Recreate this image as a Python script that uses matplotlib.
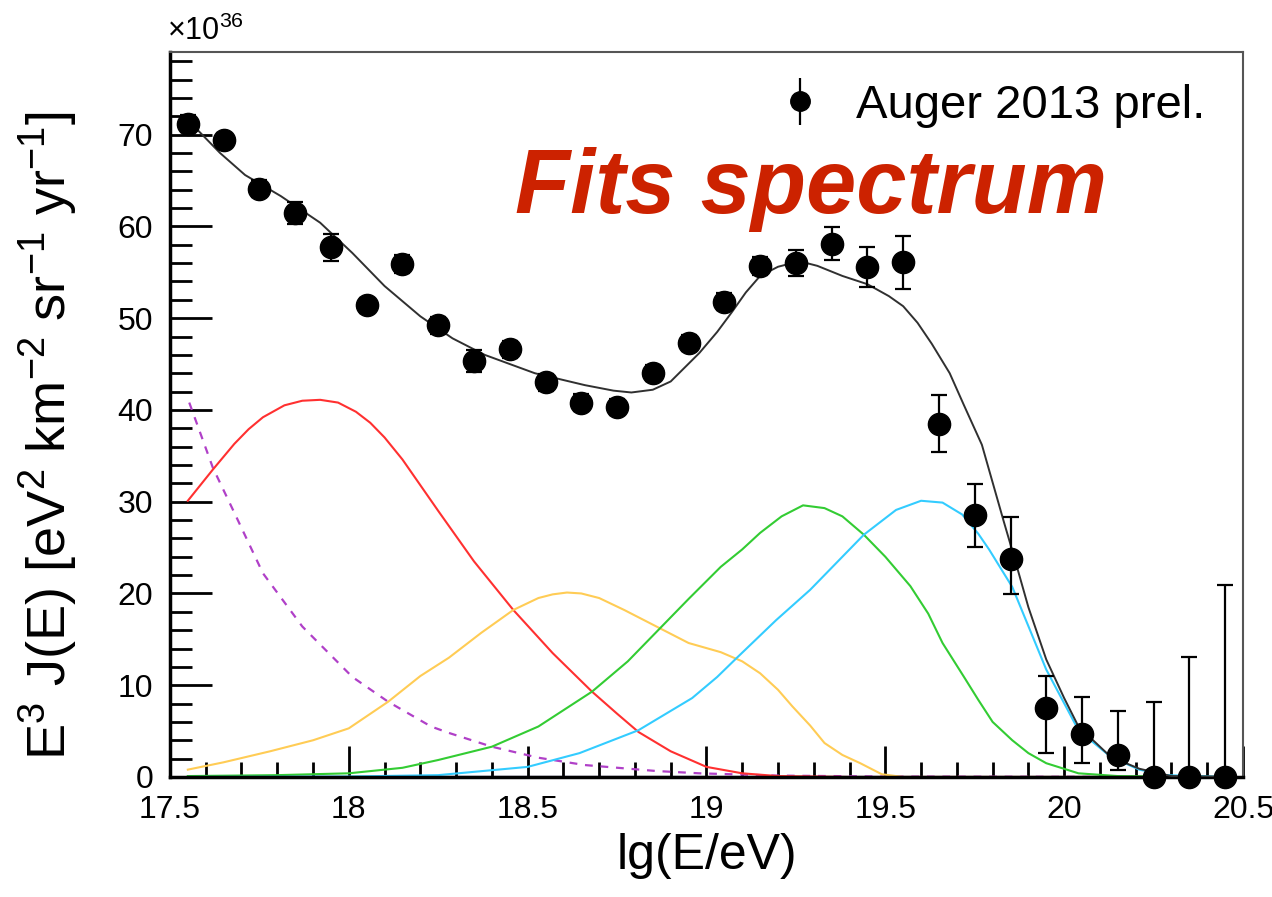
import numpy as np
import matplotlib
matplotlib.use("Agg")
import matplotlib.pyplot as plt
from matplotlib.ticker import MultipleLocator

plt.rcParams['font.family'] = ['Liberation Sans', 'DejaVu Sans']
plt.rcParams['mathtext.fontset'] = 'custom'
plt.rcParams['mathtext.rm'] = 'Liberation Sans'
plt.rcParams['mathtext.it'] = 'Liberation Sans:italic'
plt.rcParams['mathtext.bf'] = 'Liberation Sans:bold'

# Auger 2013 prel. data (units of 1e36)
lgE = [17.55, 17.65, 17.75, 17.85, 17.95, 18.05, 18.15, 18.25, 18.35, 18.45,
       18.55, 18.65, 18.75, 18.85, 18.95, 19.05, 19.15, 19.25, 19.35, 19.45,
       19.55, 19.65, 19.75, 19.85, 19.95, 20.05, 20.15, 20.25, 20.35, 20.45]
flux = [71.2, 69.4, 64.1, 61.5, 57.7, 51.4, 55.9, 49.2, 45.3, 46.6,
        43.0, 40.8, 40.3, 44.0, 47.3, 51.8, 55.7, 56.0, 58.1, 55.6,
        56.1, 38.5, 28.5, 23.8, 7.5, 4.7, 2.4, 0.0, 0.0, 0.0]
err_hi = [0.9, 0.8, 0.9, 1.2, 1.5, 0.8, 1.0, 0.9, 1.2, 0.9,
          0.9, 0.9, 0.9, 0.9, 0.9, 0.9, 1.0, 1.4, 1.8, 2.2,
          2.9, 3.1, 3.4, 4.5, 3.5, 4.0, 4.8, 8.2, 13.1, 20.9]
err_lo = [0.9, 0.8, 0.9, 1.2, 1.5, 0.8, 1.0, 0.9, 1.2, 0.9,
          0.9, 0.9, 0.9, 0.9, 0.9, 0.9, 1.0, 1.4, 1.8, 2.2,
          2.9, 3.1, 3.4, 3.9, 4.9, 3.2, 1.6, 0.0, 0.0, 0.0]

# fit curves
tot_x = [17.55, 17.58, 17.64, 17.71, 17.81, 17.92, 18.01, 18.10, 18.20, 18.29,
         18.38, 18.52, 18.66, 18.74, 18.79, 18.85, 18.90, 18.98, 19.03, 19.07,
         19.11, 19.15, 19.20, 19.24, 19.28, 19.31, 19.38, 19.45, 19.51, 19.55,
         19.59, 19.63, 19.68, 19.72, 19.77, 19.83, 19.86, 19.90, 19.95, 20.00,
         20.04, 20.13, 20.21, 20.30, 20.45]
tot_y = [71.0, 70.4, 68.0, 65.6, 63.3, 60.4, 57.1, 53.5, 50.2, 47.8,
         46.0, 44.0, 42.7, 42.1, 41.9, 42.2, 43.1, 46.2, 48.5, 50.6,
         52.8, 54.6, 55.6, 56.0, 56.0, 55.7, 54.6, 53.7, 52.4, 51.3,
         49.5, 47.2, 44.0, 40.5, 36.2, 28.0, 24.0, 18.5, 12.8, 8.6,
         5.5, 2.2, 0.9, 0.1, 0.0]

red_x = [17.55, 17.62, 17.68, 17.72, 17.76, 17.82, 17.87, 17.92, 17.97, 18.02,
         18.06, 18.10, 18.15, 18.25, 18.35, 18.46, 18.57, 18.68, 18.75, 18.81,
         18.90, 19.00, 19.10, 19.20, 19.40, 20.45]
red_y = [30.1, 33.5, 36.3, 37.9, 39.2, 40.5, 41.0, 41.1, 40.8, 39.8,
         38.6, 37.0, 34.6, 29.0, 23.5, 18.2, 13.5, 9.3, 6.9, 4.9,
         2.8, 1.1, 0.4, 0.1, 0.0, 0.0]

yel_x = [17.55, 17.65, 17.78, 17.90, 18.00, 18.11, 18.20, 18.28, 18.37, 18.46,
         18.53, 18.57, 18.61, 18.65, 18.70, 18.77, 18.87, 18.95, 19.04, 19.10,
         19.15, 19.20, 19.24, 19.29, 19.33, 19.38, 19.43, 19.49, 19.55, 20.45]
yel_y = [0.8, 1.6, 2.8, 4.0, 5.3, 8.2, 11.0, 13.0, 15.7, 18.2,
         19.5, 19.9, 20.1, 20.0, 19.5, 18.2, 16.2, 14.6, 13.6, 12.6,
         11.3, 9.5, 7.7, 5.6, 3.7, 2.4, 1.5, 0.3, 0.0, 0.0]

grn_x = [17.55, 17.80, 18.00, 18.15, 18.25, 18.40, 18.53, 18.68, 18.78, 18.87,
         18.95, 19.04, 19.10, 19.15, 19.21, 19.27, 19.33, 19.38, 19.44, 19.50,
         19.57, 19.62, 19.66, 19.72, 19.76, 19.80, 19.855, 19.90, 19.95, 20.04,
         20.15, 20.45]
grn_y = [0.1, 0.2, 0.4, 1.0, 1.85, 3.3, 5.5, 9.3, 12.6, 16.2,
         19.4, 22.9, 24.8, 26.6, 28.4, 29.6, 29.3, 28.4, 26.4, 24.0,
         20.8, 17.8, 14.6, 10.9, 8.4, 6.0, 4.0, 2.6, 1.5, 0.4,
         0.1, 0.0]

cyn_x = [17.55, 18.00, 18.25, 18.50, 18.645, 18.81, 18.96, 19.03, 19.08, 19.195,
         19.29, 19.36, 19.44, 19.53, 19.60, 19.66, 19.715, 19.76, 19.79, 19.855,
         19.95, 20.04, 20.13, 20.21, 20.285, 20.45]
cyn_y = [0.0, 0.05, 0.2, 1.1, 2.6, 5.1, 8.6, 10.9, 12.8, 17.1,
         20.4, 23.2, 26.4, 29.1, 30.1, 29.9, 28.6, 26.5, 24.8, 20.7,
         11.7, 5.1, 2.2, 0.8, 0.2, 0.0]

pur_x = [17.554, 17.62, 17.68, 17.76, 17.87, 18.01, 18.11, 18.23, 18.28, 18.40,
         18.53, 18.66, 18.86, 18.98, 19.2, 19.5, 20.45]
pur_y = [40.8, 33.7, 28.8, 22.2, 16.4, 10.9, 8.2, 5.5, 4.8, 3.3,
         2.1, 1.3, 0.65, 0.4, 0.15, 0.05, 0.0]

navy_x = [17.55, 20.45]
navy_y = [0.0, 0.0]

fig = plt.figure(figsize=(12.72, 8.97), dpi=100)
ax = fig.add_axes([0.1336, 0.1338, 0.8436, 0.8082])

ax.plot(navy_x, navy_y, color='#1c1c6a', lw=1.6, zorder=2)
ax.plot(pur_x, pur_y, color='#b040c8', lw=1.6, ls=(0, (3.5, 3.5)), zorder=2)
ax.plot(red_x, red_y, color='#ff3030', lw=1.5, zorder=2)
ax.plot(yel_x, yel_y, color='#ffcc55', lw=1.5, zorder=2)
ax.plot(grn_x, grn_y, color='#33cc33', lw=1.5, zorder=2)
ax.plot(cyn_x, cyn_y, color='#33ccff', lw=1.5, zorder=2)
ax.plot(tot_x, tot_y, color='#303030', lw=1.4, zorder=3)

ax.errorbar(lgE, flux, yerr=[err_lo, err_hi], fmt='o', color='black',
            ms=16, elinewidth=1.6, capsize=6, capthick=1.6, zorder=4,
            clip_on=False)

# legend proxy (no caps)
h = ax.errorbar([np.nan], [np.nan], yerr=[1], fmt='o', color='black',
                ms=14, elinewidth=1.6, capsize=0)
ax.legend([h], ['Auger 2013 prel.'], loc='upper right', frameon=False,
          fontsize=34, handlelength=1.0, handletextpad=0.7,
          bbox_to_anchor=(1.005, 1.015))

ax.set_xlim(17.5, 20.5)
ax.set_ylim(0, 79)
ax.xaxis.set_minor_locator(MultipleLocator(0.1))
ax.yaxis.set_major_locator(MultipleLocator(10))
ax.yaxis.set_minor_locator(MultipleLocator(2))
ax.set_xticks([17.5, 18, 18.5, 19, 19.5, 20, 20.5])
ax.set_xticklabels(['17.5', '18', '18.5', '19', '19.5', '20', '20.5'])
ax.tick_params(which='both', direction='in', top=False, right=False,
               labelsize=23, width=2, color='black')
ax.tick_params(axis='x', which='major', length=22, pad=13)
ax.tick_params(axis='x', which='minor', length=11)
ax.tick_params(axis='y', which='major', length=30, pad=12)
ax.tick_params(axis='y', which='minor', length=16)

for s in ['left', 'bottom']:
    ax.spines[s].set_linewidth(2.5)
    ax.spines[s].set_color('black')
for s in ['top', 'right']:
    ax.spines[s].set_linewidth(1.5)
    ax.spines[s].set_color('#555555')

ax.set_xlabel('lg(E/eV)', fontsize=36, labelpad=6)
ax.set_ylabel(r'E$^{3}$ J(E) [eV$^{2}$ km$^{-2}$ sr$^{-1}$ yr$^{-1}$]',
              fontsize=39, labelpad=8)
ax.yaxis.set_label_coords(-0.085, 0.47)

fig.text(0.131, 0.955, r'$\times$10$^{36}$', fontsize=22, ha='left', va='baseline')

fig.text(0.405, 0.762, 'Fits spectrum', fontsize=65, fontweight='bold',
         fontstyle='italic', color='#cc2200', ha='left', va='baseline')

fig.savefig('out.png', dpi=100)
